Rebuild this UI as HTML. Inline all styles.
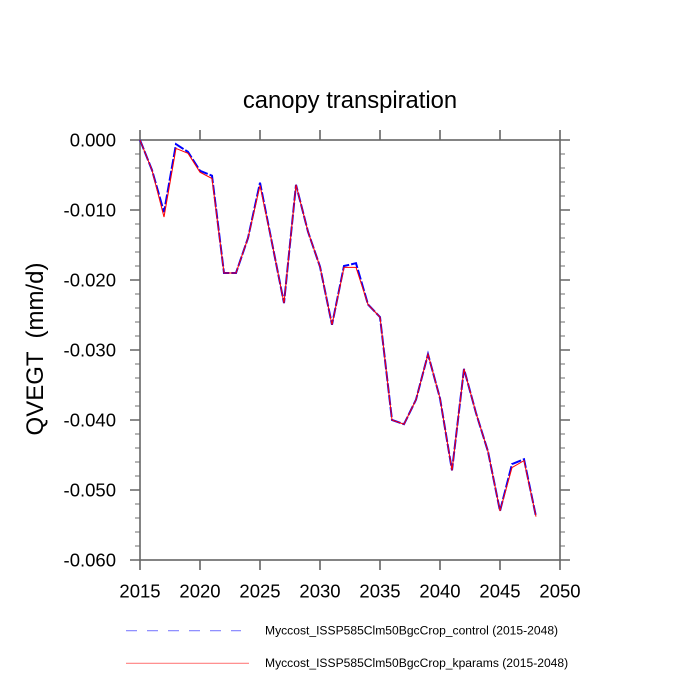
<!DOCTYPE html>
<html>
<head>
<meta charset="utf-8">
<style>
  html, body { margin: 0; padding: 0; background: #ffffff; }
  svg { display: block; }
  text { font-family: "Liberation Sans", "DejaVu Sans", sans-serif; fill: #000; }
</style>
</head>
<body>
<svg width="700" height="700" viewBox="0 0 700 700" xmlns="http://www.w3.org/2000/svg">
  <rect x="0" y="0" width="700" height="700" fill="#ffffff"/>

  <!-- Title -->
  <text x="350" y="108" font-size="23.8" text-anchor="middle">canopy transpiration</text>

  <!-- Y axis label -->
  <text transform="translate(43,349) rotate(-90)" font-size="24" text-anchor="middle" xml:space="preserve">QVEGT  (mm/d)</text>

  <!-- minor ticks (y) -->
  <g stroke="#8a8a8a" stroke-width="1.2">
    <path d="M135 154H140M135 168H140M135 182H140M135 196H140
             M135 224H140M135 238H140M135 252H140M135 266H140
             M135 294H140M135 308H140M135 322H140M135 336H140
             M135 364H140M135 378H140M135 392H140M135 406H140
             M135 434H140M135 448H140M135 462H140M135 476H140
             M135 504H140M135 518H140M135 532H140M135 546H140"/>
    <path d="M560 154H565M560 168H565M560 182H565M560 196H565
             M560 224H565M560 238H565M560 252H565M560 266H565
             M560 294H565M560 308H565M560 322H565M560 336H565
             M560 364H565M560 378H565M560 392H565M560 406H565
             M560 434H565M560 448H565M560 462H565M560 476H565
             M560 504H565M560 518H565M560 532H565M560 546H565"/>
  </g>

  <!-- major ticks -->
  <g stroke="#666" stroke-width="1.6">
    <path d="M130 140H140M130 210H140M130 280H140M130 350H140M130 420H140M130 490H140M130 560H140"/>
    <path d="M560 140H570M560 210H570M560 280H570M560 350H570M560 420H570M560 490H570M560 560H570"/>
    <path d="M140 560V570M200 560V570M260 560V570M320 560V570M380 560V570M440 560V570M500 560V570M560 560V570"/>
    <path d="M140 130V140M200 130V140M260 130V140M320 130V140M380 130V140M440 130V140M500 130V140M560 130V140"/>
  </g>

  <!-- frame -->
  <rect x="140" y="140" width="420" height="420" fill="none" stroke="#666" stroke-width="1.6"/>

  <!-- Y tick labels -->
  <g font-size="18.5" text-anchor="end">
    <text x="116" y="146.6">0.000</text>
    <text x="116" y="216.6">-0.010</text>
    <text x="116" y="286.6">-0.020</text>
    <text x="116" y="356.6">-0.030</text>
    <text x="116" y="426.6">-0.040</text>
    <text x="116" y="496.6">-0.050</text>
    <text x="116" y="566.6">-0.060</text>
  </g>

  <!-- X tick labels -->
  <g font-size="18.5" text-anchor="middle">
    <text x="140" y="597.5">2015</text>
    <text x="200" y="597.5">2020</text>
    <text x="260" y="597.5">2025</text>
    <text x="320" y="597.5">2030</text>
    <text x="380" y="597.5">2035</text>
    <text x="440" y="597.5">2040</text>
    <text x="500" y="597.5">2045</text>
    <text x="560" y="597.5">2050</text>
  </g>

  <!-- Blue dashed series (control) -->
  <polyline fill="none" stroke="#0000ff" stroke-width="2" stroke-dasharray="10,2"
    points="140,140 152,170.1 164,212.1 176,144.2 188,151.9 200,170.8 212,175.7 224,273 236,273 248,238 260,182.7 272,242.9 284,303.1 296,184.8 308,231.7 320,266.7 332,324.8 344,266 356,263.2 368,304.5 380,317.1 392,420 404,424.2 416,399.7 428,354.2 440,398.3 452,470.4 464,368.9 476,413 488,451.5 500,511 512,464.1 524,459.2 536,516.6"/>

  <!-- Red solid series (kparams) -->
  <polyline fill="none" stroke="#ff0000" stroke-width="1"
    points="140,140 152,170.1 164,217 176,148.4 188,153.3 200,172.2 212,178.5 224,273 236,273 248,238 260,185.5 272,242.9 284,303.1 296,184.8 308,231.7 320,266.7 332,324.8 344,267.4 356,267.4 368,304.5 380,317.1 392,420 404,424.2 416,399.7 428,354.2 440,398.3 452,470.4 464,368.9 476,413 488,451.5 500,511 512,467.6 524,460.6 536,516.6"/>

  <!-- Legend -->
  <line x1="126" y1="630.7" x2="241" y2="630.7" stroke="#8080ff" stroke-width="1.1" stroke-dasharray="11,10"/>
  <text x="265" y="634.5" font-size="12.1">Myccost_ISSP585Clm50BgcCrop_control (2015-2048)</text>
  <line x1="126" y1="663.3" x2="249" y2="663.3" stroke="#ff8080" stroke-width="1.1"/>
  <text x="265" y="667" font-size="12.1">Myccost_ISSP585Clm50BgcCrop_kparams (2015-2048)</text>
</svg>
</body>
</html>
